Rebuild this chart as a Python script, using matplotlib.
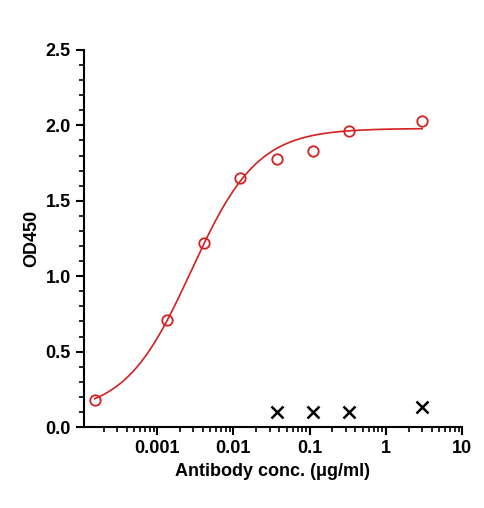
import numpy as np
import matplotlib
matplotlib.use("Agg")
import matplotlib.pyplot as plt
from matplotlib.ticker import LogLocator, MultipleLocator, FixedLocator, FixedFormatter, NullFormatter

conc = [0.000152, 0.00137, 0.0041, 0.0123, 0.037, 0.111, 0.333, 3.0]
od = [0.18, 0.71, 1.22, 1.65, 1.78, 1.83, 1.96, 2.03]
neg_conc = [0.037, 0.111, 0.333, 3.0]
neg_od = [0.10, 0.10, 0.10, 0.13]
# 4PL fit parameters (bottom, top, EC50, hill)
fit = [0.09, 1.98, 0.0028, 1.0]

plt.rcParams['font.family'] = ['Liberation Sans', 'DejaVu Sans']
fig = plt.figure(figsize=(4.85, 5.08), dpi=100)
ax = fig.add_axes([84/485, 1-427/508, (462-84)/485, (427-50)/508])

xs = np.logspace(np.log10(conc[0]), np.log10(conc[-1]), 300)
b, t, ec, h = fit
ax.plot(xs, b + (t-b)/(1+(ec/xs)**h), color='#d42020', lw=1.2)
ax.plot(conc, od, 'o', mfc='none', mec='#d42020', ms=7.5, mew=1.3)
ax.plot(neg_conc, neg_od, 'x', color='black', ms=8, mew=1.8)

ax.set_xscale('log')
ax.set_xlim(1.1e-4, 10)
ax.set_ylim(0, 2.5)
ax.xaxis.set_major_locator(FixedLocator([0.001, 0.01, 0.1, 1, 10]))
ax.xaxis.set_major_formatter(FixedFormatter(['0.001', '0.01', '0.1', '1', '10']))
ax.xaxis.set_minor_locator(LogLocator(base=10, subs=np.arange(2, 10)))
ax.xaxis.set_minor_formatter(NullFormatter())
ax.yaxis.set_major_locator(MultipleLocator(0.5))
ax.yaxis.set_minor_locator(MultipleLocator(0.1))
ax.yaxis.set_major_formatter(matplotlib.ticker.FormatStrFormatter('%.1f'))
for s in ['top', 'right']:
    ax.spines[s].set_visible(False)
for s in ['left', 'bottom']:
    ax.spines[s].set_linewidth(1.5)
ax.tick_params(which='major', length=6, width=1.5, labelsize=13)
ax.tick_params(which='minor', length=3.5, width=1.2)
for lab in ax.get_xticklabels() + ax.get_yticklabels():
    lab.set_fontweight('bold')
ax.set_xlabel('Antibody conc. (μg/ml)', fontsize=13, fontweight='bold')
ax.set_ylabel('OD450', fontsize=13, fontweight='bold')
fig.savefig('out.png', dpi=100)
